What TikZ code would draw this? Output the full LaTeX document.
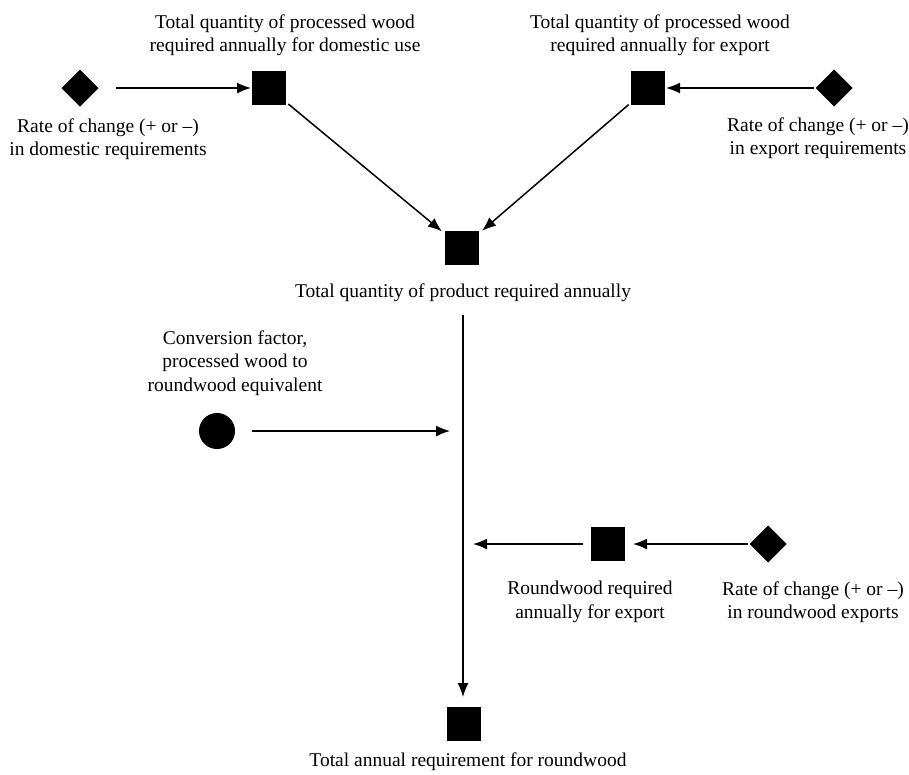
\documentclass[tikz,border=0pt]{standalone}
\usepackage{fontspec}
\setmainfont{Liberation Serif}
\usetikzlibrary{arrows.meta,shapes.geometric}
\begin{document}
\begin{tikzpicture}[x=1pt,y=-1pt,
  every node/.style={inner sep=0pt,outer sep=0pt},
  stock/.style={rectangle,fill=black,minimum size=34pt},
  rate/.style={diamond,fill=black,minimum size=37pt},
  factor/.style={circle,fill=black,minimum size=36pt},
  lbl/.style={align=center,font=\fontsize{19.5}{23.5}\selectfont},
  flow/.style={line width=1.5pt,-{Latex[length=14pt,width=11pt]}}]
\useasboundingbox (0,0) rectangle (909,774);

% stocks, rates and factor
\node[rate]   (rdom)  at (80,88)   {};
\node[stock]  (qdom)  at (269,88)  {};
\node[stock]  (qexp)  at (648,88)  {};
\node[rate]   (rexp)  at (834,88)  {};
\node[stock]  (qtot)  at (462,248) {};
\node[factor] (conv)  at (217,431) {};
\node[stock]  (qrw)   at (608,544) {};
\node[rate]   (rrw)   at (768,544) {};
\node[stock]  (qfin)  at (464,724) {};

% labels
\node[lbl] (tdom)  at (285,35)  {Total quantity of processed wood\\required annually for domestic use};
\node[lbl] (texp)  at (660,35)  {Total quantity of processed wood\\required annually for export};
\node[lbl] (trdom) at (108,139) {Rate of change (+ or --)\\in domestic requirements};
\node[lbl] (trexp) at (818,138) {Rate of change (+ or --)\\in export requirements};
\node[lbl] (ttot)  at (463,293) {Total quantity of product required annually};
\node[lbl] (tconv) at (235,363) {Conversion factor,\\processed wood to\\roundwood equivalent};
\node[lbl] (trw)   at (590,602) {Roundwood required\\annually for export};
\node[lbl] (trrw)  at (813,602) {Rate of change (+ or --)\\in roundwood exports};
\node[lbl] (tfin)  at (468,762) {Total annual requirement for roundwood};

% junction points on the main flow line
\coordinate (top)  at (463,315);
\coordinate (bot)  at (463,697);
\coordinate (jc)   at (450,431);
\coordinate (jr)   at (473,544);

% connectors
\draw[flow,shorten <=17pt,shorten >=1pt] (rdom) -- (qdom);
\draw[flow,shorten <=2pt,shorten >=1pt] (rexp) -- (qexp);
\draw[flow,shorten <=3pt,shorten >=4pt] (qdom) -- (qtot);
\draw[flow,shorten <=3pt,shorten >=4pt] (qexp) -- (qtot);
\draw[flow] (top) -- (bot);
\draw[flow,shorten <=17pt] (conv) -- (jc);
\draw[flow,shorten <=8pt] (qrw) -- (jr);
\draw[flow,shorten <=2pt,shorten >=8pt] (rrw) -- (qrw);
\end{tikzpicture}
\end{document}
